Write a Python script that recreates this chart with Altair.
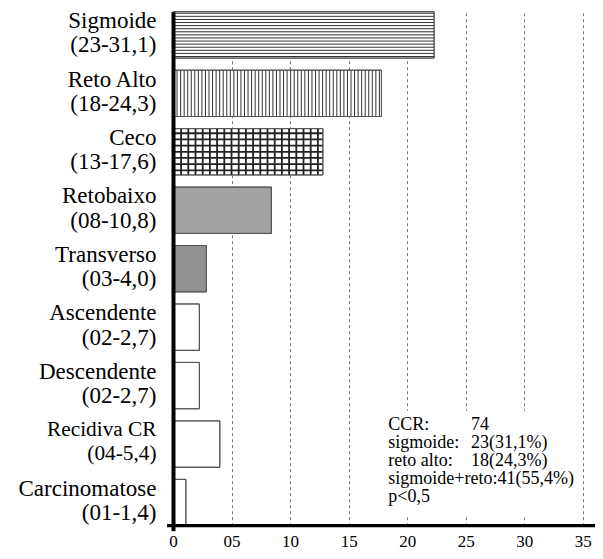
import json
import altair as alt
import pandas as pd

# ---------------- data ----------------
names = ["Sigmoide", "Reto Alto", "Ceco", "Retobaixo", "Transverso",
         "Ascendente", "Descendente", "Recidiva CR", "Carcinomatose"]
counts = ["(23-31,1)", "(18-24,3)", "(13-17,6)", "(08-10,8)", "(03-4,0)",
          "(02-2,7)", "(02-2,7)", "(04-5,4)", "(01-1,4)"]
values = [22.3, 17.8, 12.8, 8.4, 2.85, 2.25, 2.25, 4.0, 1.1]
x_ticks = [0, 5, 10, 15, 20, 25, 30, 35]
x_tick_labels = ["0", "05", "10", "15", "20", "25", "30", "35"]
note_labels = ["CCR:", "sigmoide:", "reto alto:", "sigmoide+reto:41(55,4%)", "p<0,5"]
note_values = ["74", "23(31,1%)", "18(24,3%)"]

# ---------------- layout / style ----------------
W, H = 422, 514
X_MAX = 36.04
P_IN = 0.207
BW = H / (len(names) - P_IN) * (1 - P_IN)
FONT = "Liberation Serif"

cats = [f"{n}|{c}" for n, c in zip(names, counts)]
df = pd.DataFrame({"cat": cats, "value": values})
fills = ["white", "white", "white", "#a2a2a2", "#929292", "white", "white", "white", "white"]

one = pd.DataFrame({"a": [0]})

sig = df[df.cat == cats[0]]
reto = df[df.cat == cats[1]]
ceco = df[df.cat == cats[2]]

lab_expr = f"{json.dumps(x_tick_labels)}[indexof({json.dumps(x_ticks)}, datum.value)]"

x_scale = alt.Scale(domain=[0, X_MAX], nice=False, zero=True)
y_scale = alt.Scale(domain=cats, paddingInner=P_IN, paddingOuter=0)

x_axis = alt.Axis(
    values=x_ticks, labelExpr=lab_expr, title=None,
    grid=True, gridDash=[3, 3], gridColor="#777", gridWidth=1,
    domain=False, ticks=True, tickSize=5, tickWidth=4,
    tickColor={"condition": {"test": "datum.value === 0", "value": "black"},
               "value": "rgba(0,0,0,0)"},
    labelFont=FONT, labelFontSize=17, labelColor="black", labelPadding=3,
    labelFlush=False,
)
y_axis = alt.Axis(
    title=None, ticks=False, domain=True, domainColor="black", domainWidth=4,
    labelExpr="split(datum.value, '|')", labelFont=FONT,
    labelFontSize={"condition": {"test": "indexof(datum.value, 'Recidiva') == 0", "value": 21.3},
                   "value": 23},
    labelColor="black", labelLineHeight=24.2, labelPadding=17, labelAlign="right",
    labelOffset=-13.8, labelLimit=300, zindex=1,
)

x_enc = alt.X("value:Q", scale=x_scale, axis=x_axis)
y_enc = alt.Y("cat:N", scale=y_scale, axis=y_axis, sort=cats)

box = alt.Chart(one).mark_rect(color="white").encode(
    x=alt.value(207), x2=alt.value(404), y=alt.value(399), y2=alt.value(505))

bars = alt.Chart(df).mark_bar(stroke="#555", strokeWidth=1).encode(
    x=x_enc, y=y_enc,
    fill=alt.Fill("cat:N", scale=alt.Scale(domain=cats, range=fills), legend=None))

layers = [box, bars]

# horizontal hatch lines (pattern decoration)
N_SUB = 15
for k in range(N_SUB):
    f = (k + 0.5) / N_SUB
    layers.append(
        alt.Chart(sig).transform_calculate(zero="0").mark_rule(color="#333", strokeWidth=1).encode(
            x=alt.X("zero:Q"), x2=alt.X2("value:Q"),
            y=alt.Y("cat:N", bandPosition=f)))
for k in range(1, N_SUB, 2):
    f = (k + 0.5) / N_SUB
    layers.append(
        alt.Chart(ceco).transform_calculate(zero="0").mark_rule(color="#222", strokeWidth=1.8).encode(
            x=alt.X("zero:Q"), x2=alt.X2("value:Q"),
            y=alt.Y("cat:N", bandPosition=f)))

# vertical hatch lines (thick dashed rule)
layers.append(
    alt.Chart(reto).transform_calculate(zero="0").mark_rule(
        color="#333", strokeWidth=BW, strokeDash=[1, 2.55]).encode(
        x=alt.X("zero:Q"), x2=alt.X2("value:Q"), y=alt.Y("cat:N")))
layers.append(
    alt.Chart(ceco).transform_calculate(zero="0").mark_rule(
        color="#222", strokeWidth=BW, strokeDash=[1.8, 5.4]).encode(
        x=alt.X("zero:Q"), x2=alt.X2("value:Q"), y=alt.Y("cat:N")))

outline = alt.Chart(df).mark_bar(fillOpacity=0, stroke="#555", strokeWidth=1).encode(
    x=alt.X("value:Q"), y=alt.Y("cat:N"))

t1 = alt.Chart(one).mark_text(text=note_labels, align="left", baseline="alphabetic",
                              font=FONT, fontSize=18, lineHeight=18.1, color="black").encode(
    x=alt.value(215.3), y=alt.value(418))
t2 = alt.Chart(one).mark_text(text=note_values, align="left", baseline="alphabetic",
                              font=FONT, fontSize=18, lineHeight=18.1, color="black").encode(
    x=alt.value(298), y=alt.value(418))

xline = alt.Chart(one).mark_rule(color="black", strokeWidth=3.3).encode(
    x=alt.value(-6), x2=alt.value(W), y=alt.value(H))

layers += [outline, t1, t2, xline]

chart = alt.layer(*layers).properties(
    width=W, height=H, autosize="none",
    padding={"left": 165, "top": 3.7, "right": 0, "bottom": 25.3},
).configure_view(stroke=None)

chart.save("out.html", embed_options={"renderer": "svg", "actions": False})
